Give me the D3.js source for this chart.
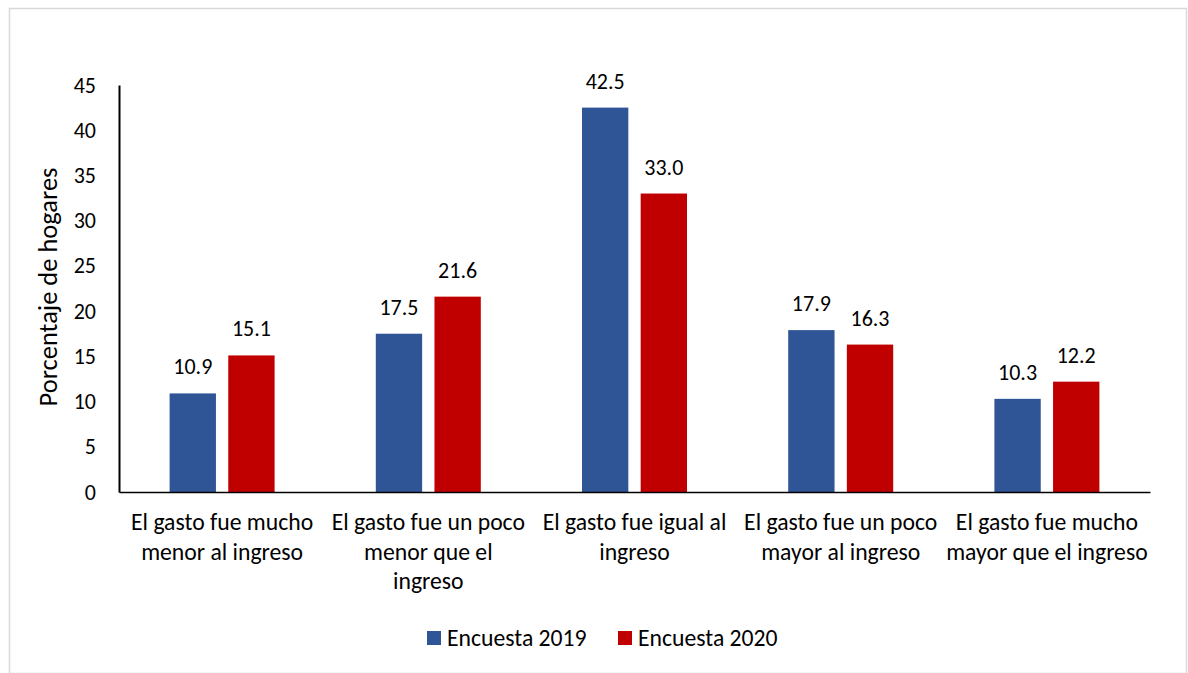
<!DOCTYPE html>
<html>
<head>
<meta charset="utf-8">
<script src="https://cdn.jsdelivr.net/npm/d3@7"></script>
<style>
  body { margin: 0; background: #fff; }
  text { font-family: Carlito, Lato, "Open Sans", sans-serif; fill: #000; }
</style>
</head>
<body>
<div class="chart_area"></div>
<script>
var categories = ["c1", "c2", "c3", "c4", "c5"];
var categoryLines = [
  ["El gasto fue mucho", "menor al ingreso"],
  ["El gasto fue un poco", "menor que el", "ingreso"],
  ["El gasto fue igual al", "ingreso"],
  ["El gasto fue un poco", "mayor al ingreso"],
  ["El gasto fue mucho", "mayor que el ingreso"]
];
var seriesNames = ["Encuesta 2019", "Encuesta 2020"];
var values2019 = [10.9, 17.5, 42.5, 17.9, 10.3];
var values2020 = [15.1, 21.6, 33.0, 16.3, 12.2];
var yTicks = [0, 5, 10, 15, 20, 25, 30, 35, 40, 45];
var colors = ["#2F5597", "#C00000"];

var W = 1188, H = 673;
var margin = {top: 85, right: 38, bottom: 181, left: 119},
    width = W - margin.left - margin.right,
    height = H - margin.top - margin.bottom;

var svg = d3.select(".chart_area")
  .append("svg")
  .attr("width", W)
  .attr("height", H);

// outer frame
svg.append("rect")
  .attr("x", 9.5).attr("y", 8.5)
  .attr("width", W - 11).attr("height", H - 8)
  .attr("fill", "#fff")
  .attr("stroke", "#d9d9d9")
  .attr("stroke-width", 1.5);

var g = svg.append("g")
  .attr("transform", "translate(" + margin.left + "," + margin.top + ")");

var x0 = d3.scaleBand()
    .domain(categories)
    .range([0, width])
    .padding(0);

var x1 = d3.scaleBand()
    .domain(seriesNames)
    .range([-52.5, 52.5])
    .paddingInner(0.21);

var y = d3.scaleLinear()
    .domain([0, 45])
    .range([height, 0]);

// y axis
var yAxis = g.append("g")
    .call(d3.axisLeft(y).tickValues(yTicks).tickSize(0).tickPadding(23));
yAxis.select(".domain").attr("stroke", "#000").attr("stroke-width", 2);
yAxis.selectAll("text")
    .style("font-size", "22px")
    .style("font-family", "Carlito, Lato, sans-serif");

var rows = categories.map(function(c, i) {
  return {cat: c, vals: [values2019[i], values2020[i]]};
});

var groups = g.selectAll(".grp")
  .data(rows)
  .enter()
  .append("g")
    .attr("class", "grp")
    .attr("transform", function(d) { return "translate(" + (x0(d.cat) + x0.bandwidth() / 2) + ",0)"; });

groups.selectAll("rect")
  .data(function(d) { return d.vals.map(function(v, k) { return {s: seriesNames[k], v: v, k: k}; }); })
  .enter()
  .append("rect")
    .attr("x", function(d) { return x1(d.s); })
    .attr("y", function(d) { return y(d.v); })
    .attr("width", x1.bandwidth())
    .attr("height", function(d) { return height - y(d.v); })
    .style("fill", function(d) { return colors[d.k]; });

groups.selectAll(".lbl")
  .data(function(d) { return d.vals.map(function(v, k) { return {s: seriesNames[k], v: v}; }); })
  .enter()
  .append("text")
    .attr("class", "lbl")
    .attr("x", function(d) { return x1(d.s) + x1.bandwidth() / 2; })
    .attr("y", function(d) { return y(d.v) - 19; })
    .attr("text-anchor", "middle")
    .style("font-size", "22px")
    .text(function(d) { return d.v.toFixed(1); });

// x axis
var xAxis = g.append("g")
    .attr("transform", "translate(0," + height + ")")
    .call(d3.axisBottom(x0).tickSize(0).tickFormat(""));
xAxis.select(".domain").attr("stroke", "#000").attr("stroke-width", 1.5);

groups.each(function(d, i) {
  var t = d3.select(this).append("text")
      .attr("text-anchor", "middle")
      .attr("y", height + 38)
      .style("font-size", "23.7px");
  t.selectAll("tspan")
    .data(categoryLines[i])
    .enter()
    .append("tspan")
      .attr("x", 0)
      .attr("dy", function(l, j) { return j === 0 ? 0 : 29.5; })
      .text(function(l) { return l; });
});

// y title
svg.append("text")
  .attr("transform", "translate(57,287) rotate(-90)")
  .attr("text-anchor", "middle")
  .style("font-size", "26.5px")
  .text("Porcentaje de hogares");

// legend
var legendX = [427, 618];
var legend = svg.selectAll(".leg")
  .data(seriesNames)
  .enter()
  .append("g")
    .attr("class", "leg")
    .attr("transform", function(d, i) { return "translate(" + legendX[i] + ",631)"; });
legend.append("rect")
  .attr("width", 14).attr("height", 14)
  .style("fill", function(d, i) { return colors[i]; });
legend.append("text")
  .attr("x", 20).attr("y", 15)
  .style("font-size", "23.7px")
  .text(function(d) { return d; });
</script>
</body>
</html>
